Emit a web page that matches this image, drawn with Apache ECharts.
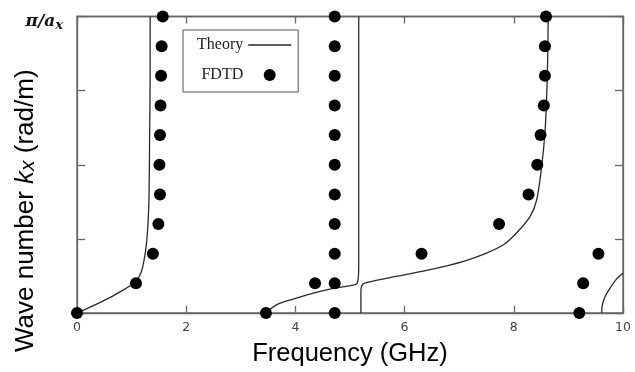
<!DOCTYPE html>
<html><head><meta charset="utf-8">
<script src="https://cdn.jsdelivr.net/npm/echarts@6/dist/echarts.min.js"></script>
<style>html,body{margin:0;padding:0;background:#fff}#c{width:635px;height:372px}</style>
</head><body><div id="c"></div>
<script>
// Theory curves: [frequency GHz, normalized k]
var theory1 = [[0,0],[0.3,0.025],[0.6,0.052],[0.85,0.078],[1.0,0.095],[1.1,0.112],[1.18,0.14],[1.23,0.18],[1.27,0.23],[1.3,0.3],[1.32,0.4],[1.33,0.6],[1.34,0.8],[1.34,1.0]];
var theory2 = [[3.46,0],[3.66,0.028],[3.96,0.047],[4.33,0.067],[4.69,0.083],[5.06,0.094],[5.13,0.1],[5.15,0.115],[5.16,0.16],[5.16,1.0]];
var theory3 = [[5.2,0],[5.2,0.079],[5.23,0.096],[5.31,0.103],[5.86,0.124],[6.47,0.146],[7.08,0.174],[7.5,0.202],[7.81,0.23],[8.05,0.27],[8.3,0.326],[8.42,0.382],[8.51,0.494],[8.57,0.607],[8.6,0.719],[8.62,0.85],[8.63,1.0]];
var theory4 = [[9.61,0],[9.615,0.021],[9.67,0.055],[9.76,0.083],[9.88,0.114],[10,0.134]];
var fdtd = [[0,0],[1.08,0.1],[1.39,0.2],[1.49,0.3],[1.52,0.4],[1.51,0.5],[1.52,0.6],[1.53,0.7],[1.54,0.8],[1.55,0.9],[1.57,1.0],
  [3.46,0],[4.36,0.1],[4.72,0],[4.72,0.1],[4.72,0.2],[4.72,0.3],[4.72,0.4],[4.72,0.5],[4.72,0.6],[4.72,0.7],[4.72,0.8],[4.72,0.9],[4.72,1.0],
  [6.31,0.2],[7.73,0.3],[8.27,0.4],[8.43,0.5],[8.49,0.6],[8.55,0.7],[8.57,0.8],[8.57,0.9],[8.59,1.0],
  [9.2,0],[9.27,0.1],[9.55,0.2]];

var chart = echarts.init(document.getElementById('c'));
function lineSeries(d){
  return {name:'Theory',type:'line',data:d,showSymbol:false,symbol:'none',smooth:0.3,
    lineStyle:{color:'#2a2a2a',width:1.3},itemStyle:{color:'#2a2a2a'},xAxisIndex:0,yAxisIndex:0,z:2,animation:false};
}
var axisLineStyle = {color:'#666',width:1.3};
chart.setOption({
  animation:false,
  grid:{left:77,right:12,top:16.5,bottom:59,show:true,borderColor:'#666',borderWidth:1.3,containLabel:false,outerBoundsMode:'none'},
  legend:{data:[{name:'Theory',icon:'path://M0,0H40V1.3H0Z',itemStyle:{color:'#2a2a2a'}},
                {name:'FDTD',icon:'circle',itemStyle:{color:'#000'}}],
    orient:'vertical',left:183,top:30,align:'right',
    itemWidth:43,itemHeight:12,itemGap:14,padding:[7,7,9,14],
    borderColor:'#555',borderWidth:1,backgroundColor:'#fff',
    textStyle:{fontFamily:'Liberation Serif',fontSize:16,color:'#222'}},
  xAxis:[{type:'value',min:0,max:10,interval:2,
    axisLine:{onZero:false,lineStyle:axisLineStyle},axisTick:{inside:true,length:7,lineStyle:axisLineStyle},
    splitLine:{show:false},
    axisLabel:{color:'#444',fontFamily:'DejaVu Sans',fontSize:12.5,margin:8},
    name:'Frequency (GHz)',nameLocation:'middle',nameGap:28,nameMoveOverlap:false,
    nameTextStyle:{fontFamily:'Liberation Sans',fontSize:25.5,color:'#000'}},
   {type:'value',min:0,max:10,interval:2,position:'top',
    axisLine:{onZero:false,lineStyle:axisLineStyle},axisTick:{inside:true,length:7,lineStyle:axisLineStyle},
    splitLine:{show:false},axisLabel:{show:false}}],
  yAxis:[{type:'value',min:0,max:1,interval:0.25,
    axisLine:{show:true,onZero:false,lineStyle:axisLineStyle},axisTick:{show:true,inside:true,length:8,lineStyle:axisLineStyle},
    splitLine:{show:false},
    axisLabel:{margin:14,padding:[11,0,0,0],formatter:function(v){return v===1?'{p|π/a}{s|x}':'';},
      rich:{p:{fontFamily:'DejaVu Serif',fontStyle:'italic',fontWeight:'bold',fontSize:17,color:'#111'},
            s:{fontFamily:'DejaVu Serif',fontStyle:'italic',fontWeight:'bold',fontSize:13,color:'#111',padding:[8,0,0,0]}}},
    name:'{a|Wave number }{k|k}{x|x}{a| (rad/m)}',nameLocation:'middle',nameGap:38,nameMoveOverlap:false,
    nameTextStyle:{padding:[0,92,0,0],rich:{a:{fontFamily:'Liberation Sans',fontSize:26,color:'#000'},
      k:{fontFamily:'Liberation Sans',fontStyle:'italic',fontSize:26,color:'#000'},
      x:{fontFamily:'Liberation Sans',fontStyle:'italic',fontSize:21,color:'#000',padding:[6,0,0,0]}}}},
   {type:'value',min:0,max:1,interval:0.25,position:'right',
    axisLine:{show:true,onZero:false,lineStyle:axisLineStyle},axisTick:{show:true,inside:true,length:8,lineStyle:axisLineStyle},
    splitLine:{show:false},axisLabel:{show:false}}],
  series:[lineSeries(theory1),lineSeries(theory2),lineSeries(theory3),lineSeries(theory4),
    {name:'FDTD',type:'scatter',data:fdtd,symbol:'circle',symbolSize:12,
     itemStyle:{color:'#000',opacity:1},z:3,clip:false}]
});
</script></body></html>
